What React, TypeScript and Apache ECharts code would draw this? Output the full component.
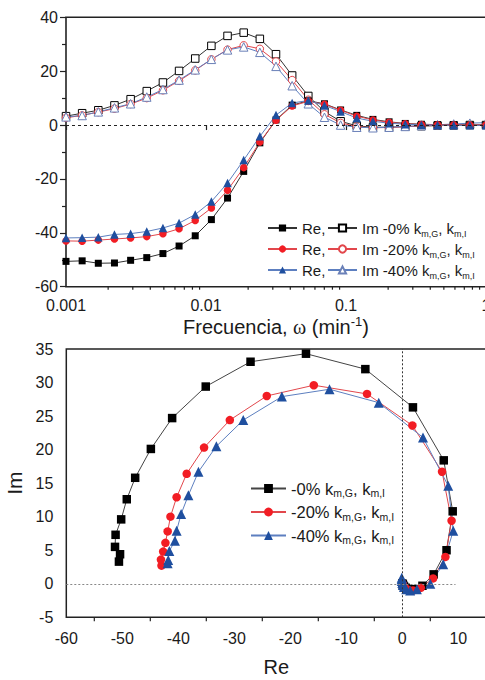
import React, { useEffect, useRef } from "react";
import * as echarts from "echarts";

// Angular frequency, min^-1 (log spaced, 0.001 .. 1)
const freq = [
  0.001, 0.0013043, 0.0017013, 0.002219, 0.0028943, 0.0037751, 0.0049239,
  0.0064223, 0.0083768, 0.010926, 0.014251, 0.018588, 0.024245, 0.031623,
  0.041246, 0.053798, 0.07017, 0.091525, 0.11938, 0.15571, 0.20309, 0.2649,
  0.34551, 0.45066, 0.5878, 0.76668, 1.0,
];

// Real and imaginary parts, -0% k_m,G, k_m,I
const re0 = [
  -50.6, -50.4, -51.3, -51.2, -50.2, -49.2, -47.7, -44.9, -41.1, -35.1, -27.1,
  -17.2, -6.6, 1.9, 7.4, 9.0, 7.9, 5.6, 3.6, 2.1, 1.2, 0.6, 0.3, 0.15, 0.05,
  0.0, 0.0,
];
const im0 = [
  3.3, 4.4, 5.5, 7.3, 9.6, 12.6, 15.8, 20.1, 24.7, 29.4, 33.1, 34.3, 32.0,
  26.3, 18.4, 10.8, 5.0, 1.4, -0.3, -0.8, -0.8, -0.6, -0.4, -0.2, -0.1, 0.0,
  0.0,
];

// -20% k_m,G, k_m,I
const re20 = [
  -43.0, -43.1, -42.7, -42.3, -41.9, -41.4, -40.3, -38.5, -35.4, -30.8, -24.2,
  -15.8, -6.3, 1.8, 7.1, 8.8, 7.7, 5.5, 3.3, 1.9, 1.0, 0.5, 0.2, 0.1, 0.0, 0.0,
  0.0,
];
const im20 = [
  2.7, 3.6, 4.8, 6.1, 7.8, 10.0, 12.9, 16.4, 20.3, 24.4, 28.0, 29.6, 28.3,
  23.6, 16.7, 9.4, 4.0, 0.8, -0.6, -1.0, -0.9, -0.6, -0.3, -0.1, 0.0, 0.0, 0.0,
];

// -40% k_m,G, k_m,I
const re40 = [
  -41.9, -41.8, -41.6, -40.6, -40.3, -39.5, -38.2, -36.4, -33.2, -28.4, -21.5,
  -13.0, -4.2, 3.7, 8.2, 9.1, 7.3, 5.0, 2.6, 1.4, 0.7, 0.3, 0.1, 0.0, -0.1,
  -0.1, -0.1,
];
const im40 = [
  3.05, 3.55, 4.9, 6.4, 7.9, 10.4, 13.2, 16.7, 20.5, 24.4, 27.9, 29.0, 27.0,
  21.8, 14.6, 7.9, 2.9, 0.0, -0.8, -1.0, -0.8, -0.5, -0.2, 0.1, 0.4, 0.7, 0.9,
];

// Minor tick positions
const freqMinorTicks = [
  0.002, 0.003, 0.004, 0.005, 0.006, 0.007, 0.008, 0.009, 0.02, 0.03, 0.04,
  0.05, 0.06, 0.07, 0.08, 0.09, 0.2, 0.3, 0.4, 0.5, 0.6, 0.7, 0.8, 0.9,
];
const reTicks = [-55, -45, -35, -25, -15, -5, 5];

const FONT = "Liberation Sans, Arial, sans-serif";
const TXT = "#1a1a1a";

const BLACK = "#000000";
const RED = "#f21d24";
const RED_LINE = "#e2474c";
const BLUE = "#1f4f9f";
const BLUE_LINE = "#5d7fc0";
const BLUE_OPEN = "#6a80b8";

const richLegend = (size: number, sub: number) => ({
  a: { fontSize: size, fontFamily: FONT, color: TXT, lineHeight: 20 },
  s: {
    fontSize: sub,
    fontFamily: FONT,
    color: TXT,
    lineHeight: 10,
    verticalAlign: "bottom",
  },
});

const legendText: Record<string, string> = {
  "Re 0": "{a|Re,}",
  "Re 20": "{a|Re,}",
  "Re 40": "{a|Re,}",
  "Im 0": "{a|Im -0% k}{s|m,G}{a|, k}{s|m,I}",
  "Im 20": "{a|Im -20% k}{s|m,G}{a|, k}{s|m,I}",
  "Im 40": "{a|Im -40% k}{s|m,G}{a|, k}{s|m,I}",
  "Ny 0": "{a|-0% k}{s|m,G}{a|, k}{s|m,I}",
  "Ny 20": "{a|-20% k}{s|m,G}{a|, k}{s|m,I}",
  "Ny 40": "{a|-40% k}{s|m,G}{a|, k}{s|m,I}",
};

const pairs = (xs: number[], ys: number[]) => xs.map((x, i) => [x, ys[i]]);

function tickSeries(
  values: number[],
  yBase: number,
  len: number,
  xAxisIndex: number,
  yAxisIndex: number
) {
  return {
    type: "custom",
    xAxisIndex,
    yAxisIndex,
    silent: true,
    clip: false,
    z: 1,
    data: values.map((v) => [v, yBase]),
    renderItem: (_params: any, api: any) => {
      const p = api.coord([api.value(0), api.value(1)]);
      return {
        type: "line",
        shape: { x1: p[0], y1: p[1], x2: p[0], y2: p[1] + len },
        style: { stroke: "#222", lineWidth: 1.2 },
      };
    },
  };
}

export default function App() {
  const ref = useRef<HTMLDivElement>(null);

  useEffect(() => {
    if (!ref.current) return;
    const chart = echarts.init(ref.current, undefined, { renderer: "svg" });

    const lineSeries = (
      name: string,
      data: number[][],
      symbol: string,
      size: number,
      fill: string,
      border: string,
      line: string,
      xi: number
    ) => ({
      name,
      type: "line",
      xAxisIndex: xi,
      yAxisIndex: xi,
      data,
      symbol,
      symbolSize: size,
      showSymbol: true,
      clip: false,
      lineStyle: { color: line, width: 1 },
      itemStyle: {
        color: fill,
        borderColor: border,
        borderWidth: fill === "#ffffff" ? 1 : 0,
        opacity: 1,
      },
      emphasis: { disabled: true },
    });

    const topLegend = (name: string, left: number, top: number) => ({
      data: [name],
      left,
      top,
      orient: "vertical",
      itemWidth: 29,
      itemHeight: 9,
      formatter: (n: string) => legendText[n],
      textStyle: { rich: richLegend(15, 9) },
      selectedMode: false,
    });
    const botLegend = (name: string, top: number) => ({
      data: [name],
      left: 245,
      top,
      orient: "vertical",
      itemWidth: 35,
      itemHeight: 11,
      formatter: (n: string) => legendText[n],
      textStyle: { rich: richLegend(16.5, 10.5) },
      selectedMode: false,
    });

    const option: any = {
      animation: false,
      backgroundColor: "#ffffff",
      textStyle: { fontFamily: FONT },
      grid: [
        {
          left: 66,
          top: 17.3,
          width: 420,
          height: 269.4,
          show: true,
          borderColor: "#222",
          borderWidth: 1.6,
          backgroundColor: "transparent",
          containLabel: false,
          outerBoundsMode: "none",
        },
        {
          left: 66.3,
          top: 349,
          width: 420,
          height: 268.3,
          show: true,
          borderColor: "#222",
          borderWidth: 1.5,
          backgroundColor: "transparent",
          containLabel: false,
          outerBoundsMode: "none",
        },
      ],
      legend: [
        topLegend("Re 0", 262, 215.5),
        topLegend("Re 20", 262, 236.5),
        topLegend("Re 40", 262, 257.5),
        topLegend("Im 0", 322, 215.5),
        topLegend("Im 20", 322, 236.5),
        topLegend("Im 40", 322, 257.5),
        botLegend("Ny 0", 475),
        botLegend("Ny 20", 498.5),
        botLegend("Ny 40", 522),
      ],
      xAxis: [
        {
          type: "log",
          gridIndex: 0,
          logBase: 10,
          min: 0.001,
          max: 1,
          axisLine: { show: false },
          axisTick: {
            show: true,
            inside: false,
            length: 5,
            lineStyle: { color: "#222", width: 1.2 },
          },
          splitLine: { show: false },
          axisLabel: {
            fontSize: 16,
            fontFamily: FONT,
            color: TXT,
            margin: 11,
            formatter: (v: number) => String(v),
          },
          name: "{t|Frecuencia, }{w|ω}{t| (min}{p|-1}{t|)}",
          nameLocation: "middle",
          nameGap: 26,
          nameTextStyle: {
            rich: {
              t: { fontSize: 20, fontFamily: FONT, color: TXT, lineHeight: 24 },
              w: {
                fontSize: 20,
                fontFamily: "Liberation Serif, serif",
                color: TXT,
                lineHeight: 24,
              },
              p: {
                fontSize: 13,
                fontFamily: FONT,
                color: TXT,
                lineHeight: 12,
                verticalAlign: "top",
              },
            },
          },
        },
        {
          type: "value",
          gridIndex: 1,
          min: -60,
          max: 15,
          interval: 10,
          axisLine: { show: false },
          axisTick: { show: false },
          splitLine: { show: false },
          axisLabel: {
            fontSize: 16,
            fontFamily: FONT,
            color: TXT,
            margin: 13,
            formatter: (v: number) => (v > 10 ? "" : String(v)),
          },
          name: "Re",
          nameLocation: "middle",
          nameGap: 38,
          nameTextStyle: { fontSize: 20, fontFamily: FONT, color: TXT, lineHeight: 24 },
        },
      ],
      yAxis: [
        {
          type: "value",
          gridIndex: 0,
          min: -60,
          max: 40,
          interval: 20,
          axisLine: { show: false },
          axisTick: {
            show: true,
            inside: false,
            length: 6,
            lineStyle: { color: "#222", width: 1.2 },
          },
          minorTick: {
            show: true,
            splitNumber: 2,
            length: 4,
            lineStyle: { color: "#222", width: 1.2 },
          },
          splitLine: { show: false },
          axisLabel: {
            fontSize: 16,
            fontFamily: FONT,
            color: TXT,
            margin: 8,
          },
        },
        {
          type: "value",
          gridIndex: 1,
          min: -5,
          max: 35,
          interval: 5,
          axisLine: { show: false },
          axisTick: { show: false },
          splitLine: { show: false },
          axisLabel: {
            fontSize: 16,
            fontFamily: FONT,
            color: TXT,
            margin: 13,
          },
          name: "Im",
          nameLocation: "middle",
          nameGap: 32,
          nameTextStyle: { fontSize: 21, fontFamily: FONT, color: TXT },
        },
      ],
      series: [
        // zero reference lines
        {
          type: "line",
          xAxisIndex: 0,
          yAxisIndex: 0,
          data: [],
          silent: true,
          markLine: {
            silent: true,
            symbol: "none",
            label: { show: false },
            lineStyle: { color: "#222", width: 1, type: [3, 3] },
            data: [{ yAxis: 0 }],
          },
        },
        {
          type: "line",
          xAxisIndex: 1,
          yAxisIndex: 1,
          data: [],
          silent: true,
          markLine: {
            silent: true,
            symbol: "none",
            label: { show: false },
            data: [
              {
                xAxis: 0,
                lineStyle: { color: "#333", width: 1, type: [2, 2] },
              },
              [
                { coord: [-60, 0], lineStyle: { color: "#888", width: 1.2, type: [2, 2] } },
                { coord: [9.5, 0] },
              ],
            ],
          },
        },
        tickSeries(freqMinorTicks, -60, 3, 0, 0),
        tickSeries(reTicks, -5, 4, 1, 1),

        // frequency panel: real parts (filled) and imaginary parts (open)
        lineSeries("Im 0", pairs(freq, im0), "rect", 7.5, "#ffffff", BLACK, "#333", 0),
        lineSeries("Im 20", pairs(freq, im20), "circle", 7.5, "#ffffff", RED_LINE, RED_LINE, 0),
        lineSeries("Im 40", pairs(freq, im40), "triangle", 8.5, "#ffffff", BLUE_OPEN, BLUE_LINE, 0),
        lineSeries("Re 0", pairs(freq, re0), "rect", 7, BLACK, BLACK, "#333", 0),
        lineSeries("Re 20", pairs(freq, re20), "circle", 7.5, RED, RED, RED_LINE, 0),
        lineSeries("Re 40", pairs(freq, re40), "triangle", 8.5, BLUE, BLUE, BLUE_LINE, 0),

        // Nyquist panel
        lineSeries("Ny 0", pairs(re0, im0), "rect", 8.5, BLACK, BLACK, "#444", 1),
        lineSeries("Ny 20", pairs(re20, im20), "circle", 8.5, RED, RED, RED_LINE, 1),
        lineSeries("Ny 40", pairs(re40, im40), "triangle", 10, BLUE, BLUE, BLUE_LINE, 1),
      ],
    };

    chart.setOption(option);
    return () => chart.dispose();
  }, []);

  return (
    <div
      ref={ref}
      style={{ position: "absolute", left: 0, top: 0, width: 485, height: 680 }}
    />
  );
}
